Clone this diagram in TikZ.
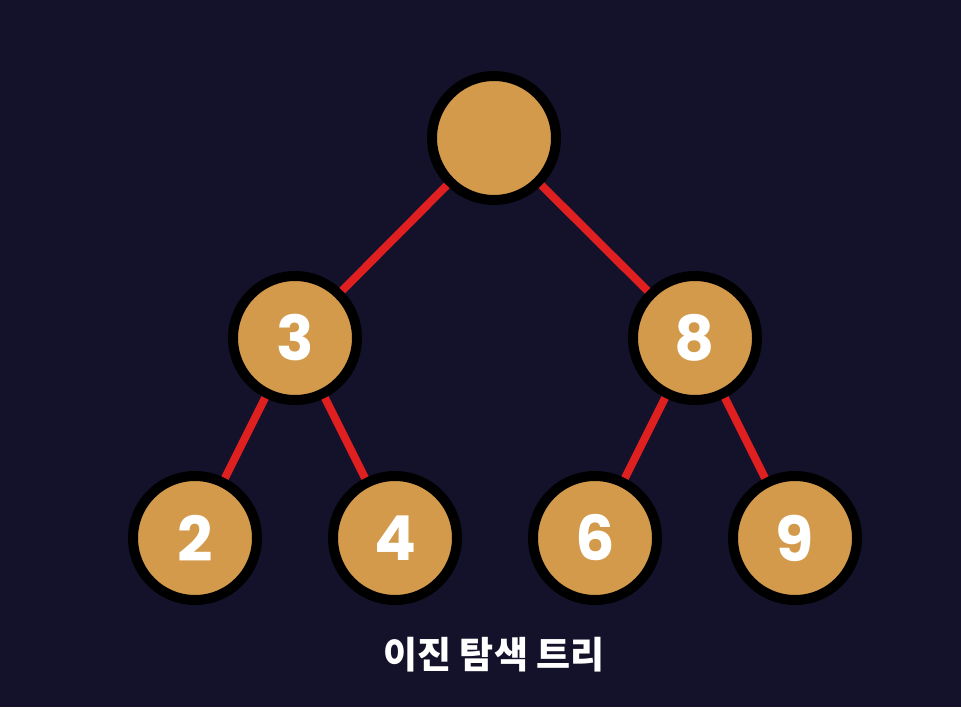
\documentclass[tikz,border=0pt]{standalone}
\usepackage{fontspec}
\newfontfamily\pop{Poppins}
\newfontfamily\kr{Noto Sans CJK KR}
\definecolor{bg}{HTML}{14122A}
\definecolor{nodefill}{HTML}{D39A4B}
\definecolor{edgered}{HTML}{E02020}
\begin{document}
\begin{tikzpicture}[x=1pt,y=-1pt,
  treenode/.style={circle,fill=nodefill,draw=black,line width=10pt,minimum size=124pt,inner sep=0pt,text=white,font=\pop\bfseries\fontsize{62}{62}\selectfont},
  treeedge/.style={draw=edgered,line width=8pt},
  caption/.style={text=white,font=\kr\bfseries\fontsize{37}{37}\selectfont}]
\fill[bg] (0,0) rectangle (961,707);
\useasboundingbox (0,0) rectangle (961,707);
\node[treenode] (r) at (494,138) {};
\node[treenode] (a) at (295,338) {3};
\node[treenode] (b) at (695,338) {8};
\node[treenode] (c) at (195,538) {2};
\node[treenode] (d) at (395,538) {4};
\node[treenode] (e) at (595,538) {6};
\node[treenode] (f) at (795,538) {9};
\node[caption] (cap) at (494,655) {이진 탐색 트리};
\foreach \p/\q in {r/a,r/b,a/c,a/d,b/e,b/f}{
  \path[treeedge] (\p) -- (\q);
}
\end{tikzpicture}
\end{document}
